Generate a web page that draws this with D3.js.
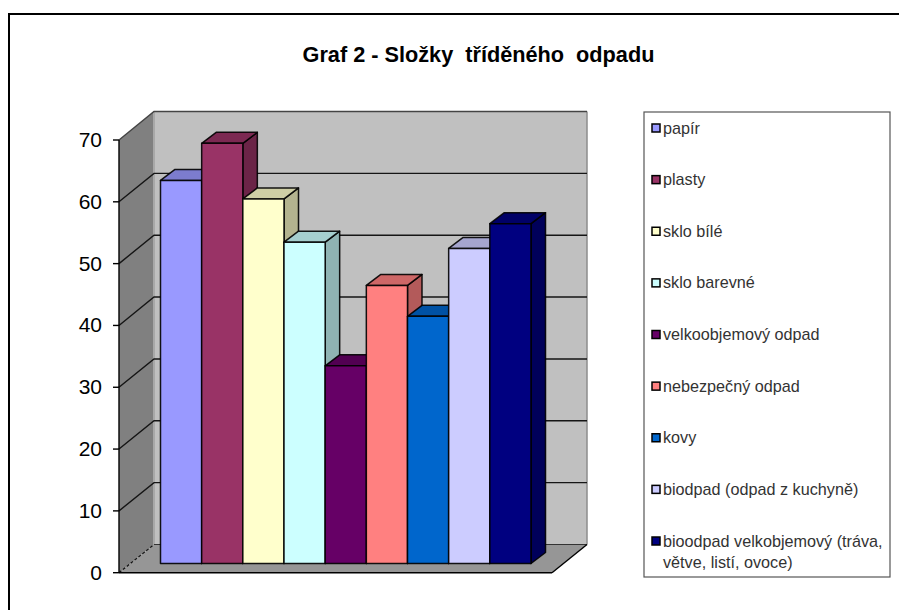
<!DOCTYPE html>
<html><head><meta charset="utf-8">
<script src="https://cdn.jsdelivr.net/npm/d3@7/dist/d3.min.js"></script>
<style>html,body{margin:0;padding:0;background:#fff}svg{display:block}text{font-family:"Liberation Sans",Arial,sans-serif;white-space:pre}</style>
</head><body><svg id="c" width="899" height="610"></svg>
<script>
const categories=["papír","plasty","sklo bílé","sklo barevné","velkoobjemový odpad","nebezpečný odpad","kovy","biodpad (odpad z kuchyně)","bioodpad velkobjemový (tráva,|větve, listí, ovoce)"];
const values=[62,68,59,52,32,45,40,51,55];
const colors=["#9999ff","#993366","#ffffcc","#ccffff","#660066","#ff8080","#0066cc","#ccccff","#000080"];
const yTicks=[0,10,20,30,40,50,60,70];
const title="Graf 2 - Složky  tříděného  odpadu";

const svg=d3.select("#c");
const dk=(c,k)=>d3.rgb(c).darker(k).formatHex();
svg.append("rect").attr("x",9).attr("y",14).attr("width",900).attr("height",600).attr("fill","#fff").attr("stroke","#000").attr("stroke-width",2);
svg.append("text").attr("x",478.5).attr("y",62).attr("text-anchor","middle").attr("font-size",21.7).attr("font-weight","bold").attr("fill","#000").text(title);

// axis scales
const yFront=d3.scaleLinear().domain([0,70]).range([572.7,140]);
const yBack=d3.scaleLinear().domain([0,70]).range([544.5,111.5]);
const yBar=d3.scaleLinear().domain([0,70]).range([563.5,131]);
const xL=119,xLB=154,xR=552,xRB=587;
const x=d3.scaleBand().domain(d3.range(categories.length)).range([160.5,531]).padding(0);
const depthX=14.5,depthY=11;
const pts=a=>a.map(p=>p.join(",")).join(" ");

// walls
svg.append("polygon").attr("points",pts([[xLB,yBack(70)],[xRB,yBack(70)],[xRB,yBack(0)],[xLB,yBack(0)]])).attr("fill","#c0c0c0");
svg.append("line").attr("x1",xRB).attr("x2",xRB).attr("y1",yBack(70)).attr("y2",yBack(0)).attr("stroke","#8c8c8c").attr("stroke-width",1.5);
svg.append("polygon").attr("points",pts([[xL,yFront(70)],[xLB,yBack(70)],[xLB,yBack(0)],[xL,yFront(0)]])).attr("fill","#808080");
svg.append("polygon").attr("points",pts([[xL,yFront(0)],[xLB,yBack(0)],[xRB,yBack(0)],[xR,yFront(0)]])).attr("fill","#969696");
svg.append("line").attr("x1",xLB).attr("x2",xLB).attr("y1",yBack(70)).attr("y2",yBack(0)).attr("stroke","#a8a8a8").attr("stroke-width",2);

// gridlines
yTicks.forEach(t=>{
  if(t>0){
    svg.append("path").attr("fill","none").attr("stroke",t===70?"#444":"#151515").attr("stroke-width",1.4)
      .attr("d",d3.line()([[xL,yFront(t)],[xLB,yBack(t)],[xRB,yBack(t)]]));
  } else {
    svg.append("line").attr("x1",xL).attr("y1",yFront(0)).attr("x2",xLB).attr("y2",yBack(0)).attr("stroke","#111").attr("stroke-width",1.2).attr("stroke-dasharray","3 2");
    svg.append("line").attr("x1",xLB).attr("x2",xRB).attr("y1",yBack(0)).attr("y2",yBack(0)).attr("stroke","#333").attr("stroke-width",1);
  }
  svg.append("line").attr("x1",xL-6).attr("x2",xL).attr("y1",yFront(t)).attr("y2",yFront(t)).attr("stroke","#000").attr("stroke-width",1.4);
  svg.append("text").attr("x",xL-17).attr("y",yFront(t)+7).attr("text-anchor","end").attr("font-size",21).attr("fill","#000").text(t);
});
svg.append("line").attr("x1",xL).attr("x2",xL).attr("y1",yFront(70)).attr("y2",yFront(0)).attr("stroke","#000").attr("stroke-width",1.4);
svg.append("line").attr("x1",xL).attr("x2",xR).attr("y1",yFront(0)).attr("y2",yFront(0)).attr("stroke","#000").attr("stroke-width",1.6);
svg.append("line").attr("x1",xR).attr("x2",xRB).attr("y1",yFront(0)).attr("y2",yBack(0)).attr("stroke","#000").attr("stroke-width",1.4);

// bars
const gb=svg.selectAll("g.bar").data(values).join("g").attr("class","bar");
const st={stroke:"#000","stroke-width":1.5,"stroke-linejoin":"round","stroke-opacity":.9};
function ap(s){Object.entries(st).forEach(([k,v])=>s.attr(k,v));return s;}
ap(gb.append("polygon")).attr("fill",(d,i)=>dk(colors[i],1.0))
 .attr("points",(d,i)=>{const r=x(i)+x.bandwidth(),t=yBar(d),b=yBar(0);return pts([[r,t],[r+depthX,t-depthY],[r+depthX,b-depthY],[r,b]]);});
ap(gb.append("polygon")).attr("fill",(d,i)=>dk(colors[i],.6))
 .attr("points",(d,i)=>{const l=x(i),r=l+x.bandwidth(),t=yBar(d);return pts([[l,t],[l+depthX,t-depthY],[r+depthX,t-depthY],[r,t]]);});
ap(gb.append("rect")).attr("fill",(d,i)=>colors[i])
 .attr("x",(d,i)=>x(i)).attr("width",x.bandwidth()).attr("y",d=>yBar(d)).attr("height",d=>yBar(0)-yBar(d));

// legend
svg.append("rect").attr("x",644).attr("y",112).attr("width",246).attr("height",465).attr("fill","#fff").attr("stroke","#555").attr("stroke-width",1.2);
const ly=d3.scalePoint().domain(d3.range(categories.length)).range([128,541]);
const lg=svg.selectAll("g.leg").data(categories).join("g").attr("class","leg").attr("transform",(d,i)=>`translate(652,${ly(i)})`);
lg.append("rect").attr("x",0).attr("y",-4).attr("width",8).attr("height",8).attr("fill",(d,i)=>colors[i]).attr("stroke","#000").attr("stroke-width",1.5);
lg.each(function(d){
  d.split("|").forEach((s,k)=>{
    d3.select(this).append("text").attr("x",11).attr("y",5.5+k*21).attr("font-size",16.2).attr("fill","#333").text(s);
  });
});
</script></body></html>
